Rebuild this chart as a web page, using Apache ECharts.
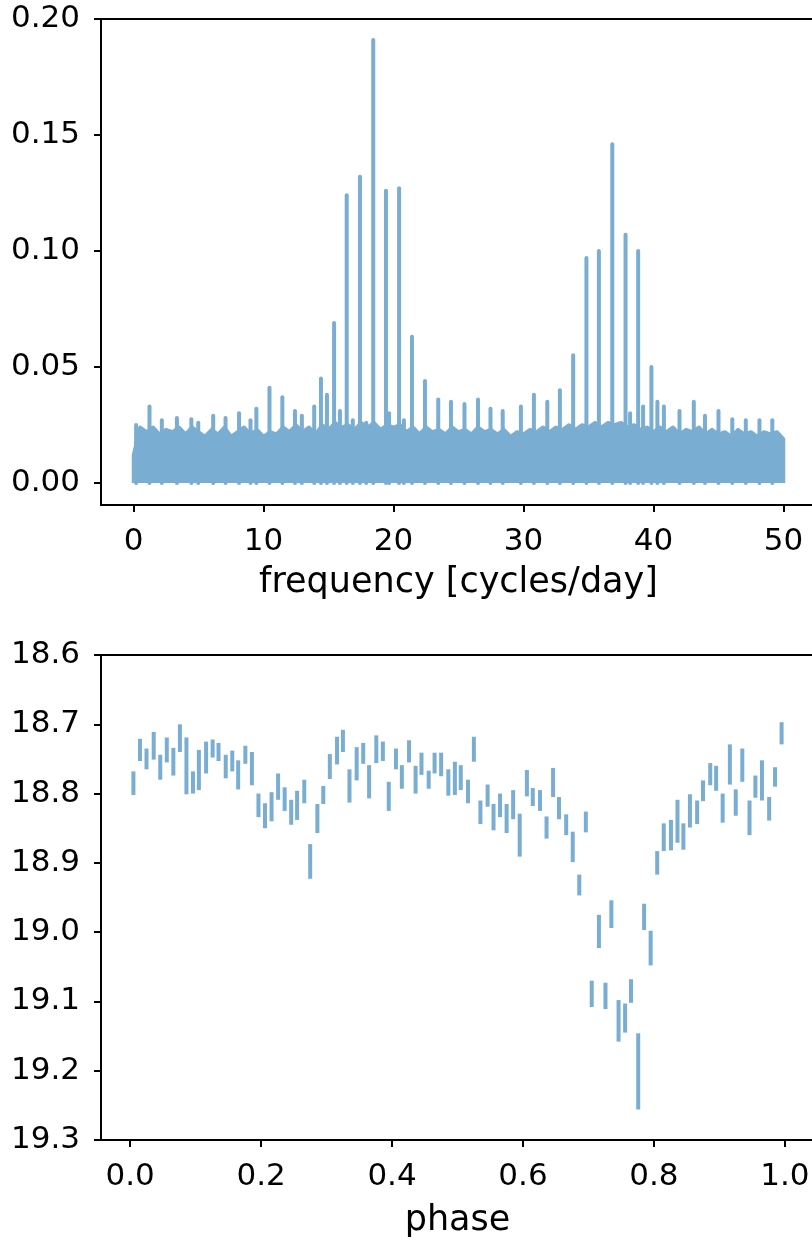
<!DOCTYPE html>
<html>
<head>
<meta charset="utf-8">
<script src="https://cdn.jsdelivr.net/npm/echarts@6/dist/echarts.min.js"></script>
<style>
  html, body { margin: 0; padding: 0; background: #fff; }
  #chart { width: 812px; height: 1241px; }
</style>
</head>
<body>
<div id="chart"></div>
<script>
// periodogram: noise floor sampled every 0.5 cycles/day from 0 to 50
const floorStep = 0.5;
const floorPower = [
  0.012, 0.024, 0.022, 0.024, 0.021, 0.023, 0.022, 0.024, 0.021, 0.024,
  0.022, 0.020, 0.023, 0.021, 0.024, 0.020, 0.022, 0.024, 0.021, 0.023,
  0.020, 0.022, 0.021, 0.024, 0.022, 0.025, 0.022, 0.024, 0.021, 0.025,
  0.023, 0.026, 0.024, 0.025, 0.023, 0.026, 0.024, 0.026, 0.023, 0.025,
  0.024, 0.025, 0.022, 0.024, 0.021, 0.024, 0.022, 0.023, 0.021, 0.024,
  0.022, 0.023, 0.021, 0.024, 0.022, 0.023, 0.021, 0.023, 0.020, 0.022,
  0.021, 0.023, 0.022, 0.024, 0.022, 0.024, 0.023, 0.025, 0.023, 0.025,
  0.024, 0.026, 0.024, 0.026, 0.025, 0.026, 0.024, 0.025, 0.023, 0.024,
  0.022, 0.024, 0.022, 0.024, 0.021, 0.023, 0.022, 0.024, 0.021, 0.023,
  0.021, 0.022, 0.020, 0.023, 0.021, 0.022, 0.020, 0.022, 0.021, 0.022,
  0.019
];

// individual periodogram peaks rising above the floor
const peakFreq = [
  0.2, 1.23, 2.18, 3.34, 4.45, 4.98, 6.13, 7.08, 8.12, 9.0,
  9.45, 10.46, 11.45, 12.42, 12.95, 13.9, 14.42, 14.88, 15.43, 15.88,
  16.4, 16.87, 17.42, 17.9, 18.44, 19.42, 19.66, 20.43, 20.8, 21.42,
  22.42, 23.44, 24.42, 25.46, 26.5, 27.46, 28.4, 29.8, 30.8, 31.83,
  32.8, 33.82, 34.84, 35.8, 36.83, 37.85, 38.2, 38.82, 39.2, 39.84,
  40.3, 40.8, 42.0, 43.1, 43.96, 45.0, 46.06, 47.1, 48.15, 49.14
];
const peakPower = [
  0.025, 0.033, 0.027, 0.028, 0.0275, 0.026, 0.029, 0.028, 0.030, 0.027,
  0.032, 0.041, 0.037, 0.031, 0.029, 0.033, 0.045, 0.038, 0.069, 0.031,
  0.124, 0.027, 0.132, 0.026, 0.191, 0.126, 0.030, 0.127, 0.027, 0.063,
  0.044, 0.036, 0.035, 0.034, 0.036, 0.032, 0.031, 0.033, 0.038, 0.035,
  0.040, 0.055, 0.097, 0.100, 0.146, 0.107, 0.030, 0.100, 0.033, 0.050,
  0.035, 0.033, 0.031, 0.035, 0.029, 0.031, 0.0275, 0.027, 0.027, 0.027
];

// folded light curve
const phase = [
  0.005, 0.015, 0.025, 0.036, 0.046, 0.056, 0.066, 0.076, 0.086, 0.096,
  0.105, 0.116, 0.126, 0.135, 0.146, 0.156, 0.165, 0.176, 0.186, 0.196,
  0.206, 0.216, 0.226, 0.236, 0.246, 0.255, 0.266, 0.275, 0.286, 0.295,
  0.305, 0.316, 0.325, 0.335, 0.346, 0.356, 0.365, 0.376, 0.386, 0.395,
  0.406, 0.415, 0.426, 0.436, 0.445, 0.456, 0.465, 0.475, 0.486, 0.496,
  0.505, 0.516, 0.525, 0.535, 0.546, 0.555, 0.565, 0.575, 0.585, 0.595,
  0.606, 0.615, 0.626, 0.636, 0.646, 0.655, 0.666, 0.676, 0.686, 0.696,
  0.705, 0.716, 0.726, 0.735, 0.746, 0.756, 0.765, 0.776, 0.785, 0.795,
  0.805, 0.815, 0.826, 0.836, 0.845, 0.855, 0.866, 0.875, 0.886, 0.895,
  0.905, 0.916, 0.925, 0.935, 0.946, 0.955, 0.965, 0.976, 0.985, 0.995
];
const mag = [
  18.785, 18.737, 18.750, 18.731, 18.762, 18.737, 18.754, 18.720, 18.760, 18.784,
  18.766, 18.748, 18.735, 18.740, 18.761, 18.753, 18.773, 18.744, 18.764, 18.817,
  18.832, 18.819, 18.790, 18.808, 18.827, 18.817, 18.797, 18.898, 18.836, 18.802,
  18.761, 18.738, 18.724, 18.789, 18.757, 18.742, 18.783, 18.736, 18.739, 18.804,
  18.750, 18.776, 18.739, 18.780, 18.757, 18.780, 18.756, 18.758, 18.784, 18.778,
  18.777, 18.797, 18.736, 18.827, 18.803, 18.834, 18.817, 18.836, 18.816, 18.860,
  18.785, 18.805, 18.810, 18.849, 18.784, 18.821, 18.845, 18.877, 18.932, 18.841,
  19.089, 18.999, 19.092, 18.974, 19.128, 19.124, 19.085, 19.201, 18.978, 19.023,
  18.900, 18.863, 18.860, 18.840, 18.862, 18.825, 18.827, 18.796, 18.772, 18.778,
  18.821, 18.758, 18.813, 18.759, 18.835, 18.790, 18.781, 18.822, 18.776, 18.713
];
const magErr = [
  0.017, 0.016, 0.015, 0.020, 0.018, 0.018, 0.020, 0.020, 0.041, 0.016,
  0.029, 0.023, 0.013, 0.013, 0.017, 0.015, 0.021, 0.013, 0.024, 0.017,
  0.018, 0.021, 0.019, 0.017, 0.018, 0.021, 0.017, 0.025, 0.021, 0.013,
  0.018, 0.020, 0.016, 0.024, 0.024, 0.015, 0.024, 0.020, 0.014, 0.021,
  0.015, 0.017, 0.016, 0.020, 0.016, 0.013, 0.015, 0.017, 0.019, 0.024,
  0.018, 0.017, 0.018, 0.017, 0.016, 0.019, 0.017, 0.021, 0.021, 0.031,
  0.019, 0.013, 0.015, 0.016, 0.021, 0.016, 0.015, 0.022, 0.015, 0.015,
  0.019, 0.024, 0.019, 0.020, 0.030, 0.021, 0.017, 0.055, 0.019, 0.025,
  0.017, 0.020, 0.022, 0.031, 0.019, 0.024, 0.017, 0.015, 0.016, 0.018,
  0.021, 0.029, 0.019, 0.024, 0.025, 0.016, 0.029, 0.017, 0.014, 0.016
];

const freqTicks = [0, 10, 20, 30, 40, 50];
const powerTicks = [0, 0.05, 0.10, 0.15, 0.20];
const phaseTicks = [0, 0.2, 0.4, 0.6, 0.8, 1.0];
const magTicks = [18.6, 18.7, 18.8, 18.9, 19.0, 19.1, 19.2, 19.3];

const COLOR = '#79add2';
const FONT = 'DejaVu Sans';

let floorData = [[0, 0]];
floorPower.forEach(function (p, i) { floorData.push([i * floorStep, p]); });
floorData.push([(floorPower.length - 1) * floorStep, 0]);

const peakData = peakFreq.map(function (f, i) { return [f, peakPower[i]]; });
const lcData = phase.map(function (p, i) { return [p, mag[i], magErr[i]]; });

function axisCommon(ticks, fmt, margin) {
  return {
    splitLine: { show: false },
    axisLine: { show: true, onZero: false, lineStyle: { color: '#000', width: 2 } },
    axisTick: { show: true, inside: false, length: 7, customValues: ticks,
      lineStyle: { color: '#000', width: 2 } },
    axisLabel: { customValues: ticks, formatter: fmt, margin: margin,
      color: '#000', fontSize: 31, fontFamily: FONT }
  };
}

let myChart = echarts.init(document.getElementById('chart'));

myChart.setOption({
  animation: false,
  textStyle: { fontFamily: FONT },
  grid: [
    { left: 101, top: 19, width: 715, height: 486, show: true,
      containLabel: false, outerBoundsMode: 'none',
      borderColor: '#000', borderWidth: 2, backgroundColor: 'transparent' },
    { left: 101, top: 655, width: 713, height: 485, show: true,
      containLabel: false, outerBoundsMode: 'none',
      borderColor: '#000', borderWidth: 2, backgroundColor: 'transparent' }
  ],
  xAxis: [
    Object.assign(axisCommon(freqTicks, function (v) { return String(Math.round(v)); }, 21), {
      type: 'value', gridIndex: 0, min: -2.5, max: 52.5,
      name: 'frequency [cycles/day]', nameLocation: 'middle', nameGap: 60,
      nameTextStyle: { fontSize: 35, color: '#000', fontFamily: FONT }
    }),
    Object.assign(axisCommon(phaseTicks, function (v) { return v.toFixed(1); }, 21), {
      type: 'value', gridIndex: 1, min: -0.0445, max: 1.0445,
      name: 'phase', nameLocation: 'middle', nameGap: 63,
      nameTextStyle: { fontSize: 35, color: '#000', fontFamily: FONT }
    })
  ],
  yAxis: [
    Object.assign(axisCommon(powerTicks, function (v) { return v.toFixed(2); }, 21), {
      type: 'value', gridIndex: 0, min: -0.0095, max: 0.2
    }),
    Object.assign(axisCommon(magTicks, function (v) { return v.toFixed(1); }, 21), {
      type: 'value', gridIndex: 1, min: 18.6, max: 19.3, inverse: true
    })
  ],
  series: [
    {
      type: 'line',
      xAxisIndex: 0,
      yAxisIndex: 0,
      data: floorData,
      symbol: 'none',
      lineStyle: { color: COLOR, width: 3.5, join: 'round' },
      areaStyle: { color: COLOR, opacity: 1 }
    },
    {
      type: 'custom',
      xAxisIndex: 0,
      yAxisIndex: 0,
      data: peakData,
      encode: { x: 0, y: 1 },
      renderItem: function (params, api) {
        const top = api.coord([api.value(0), api.value(1)]);
        const base = api.coord([api.value(0), 0]);
        return {
          type: 'line',
          shape: { x1: base[0], y1: base[1], x2: top[0], y2: top[1] },
          style: { stroke: COLOR, lineWidth: 4, lineCap: 'round' }
        };
      }
    },
    {
      type: 'custom',
      xAxisIndex: 1,
      yAxisIndex: 1,
      data: lcData,
      encode: { x: 0, y: 1 },
      renderItem: function (params, api) {
        const p = api.value(0), m = api.value(1), e = api.value(2);
        const a = api.coord([p, m - e]);
        const b = api.coord([p, m + e]);
        return {
          type: 'line',
          shape: { x1: a[0], y1: a[1], x2: b[0], y2: b[1] },
          style: { stroke: COLOR, lineWidth: 4, lineCap: 'butt' }
        };
      }
    }
  ]
});
</script>
</body>
</html>
